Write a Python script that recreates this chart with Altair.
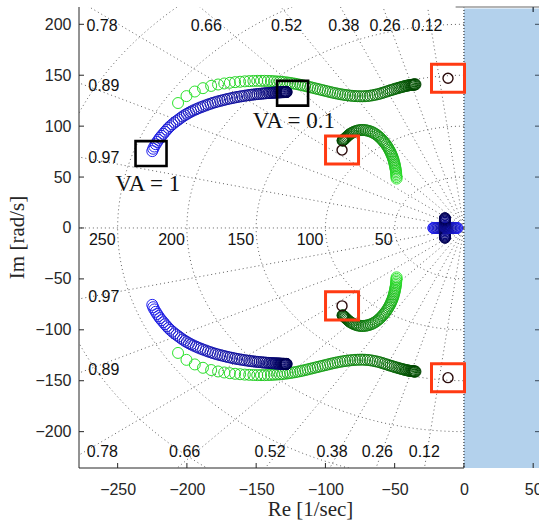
import altair as alt
import numpy as np
import pandas as pd

# ---------------- axes ----------------
XMIN, XMAX = -277.9, 54.2
YMIN, YMAX = -235.7, 217.0
W, H = 460, 461
x_ticks = [-250, -200, -150, -100, -50, 0, 50]
y_ticks = [-200, -150, -100, -50, 0, 50, 100, 150, 200]

# ---------------- s-grid ----------------
zetas = [0.12, 0.26, 0.38, 0.52, 0.66, 0.78, 0.89, 0.97]
wn_circles = [50, 100, 150, 200, 250, 300]
wn_labels = [50, 100, 150, 200, 250]

zeta_top_text = ["0.78", "0.66", "0.52", "0.38", "0.26", "0.12"]
zeta_top_x = [-261.3, -186.0, -128.0, -86.7, -57.0, -26.7]
zeta_top_y = 198.0
zeta_bot_x = [-261.0, -201.6, -140.0, -95.2, -62.5, -28.6]
zeta_bot_y = -219.6
zeta_left_text = ["0.89", "0.97"]
zeta_left_x = -260.0
zeta_left_y_top = [139.0, 68.5]
zeta_left_y_bot = [-139.5, -67.6]

# ---------------- root-locus branches (upper half, light -> dark) ----------------
blue_pts = [(-225, 75.5), (-224.3, 77.8), (-223.5, 80), (-222.5, 82.3), (-221.5, 84.5),
            (-220.5, 86.5), (-219.5, 88.5), (-218.3, 90.5), (-217, 92.5), (-215.8, 94.5),
            (-214.5, 96.5), (-213.3, 98.3), (-212, 100), (-210.5, 101.8), (-209, 103.5),
            (-207.5, 105), (-206, 106.5), (-204.5, 108), (-203, 109.5), (-201.5, 110.8),
            (-200, 112), (-198.5, 113.2), (-197, 114.3), (-195.3, 115.4), (-193.5, 116.5),
            (-191.8, 117.5), (-190, 118.5), (-188.3, 119.4), (-186.5, 120.3), (-184.8, 121.2),
            (-183, 122), (-181.3, 122.8), (-179.5, 123.5), (-177.8, 124.2), (-176, 124.8),
            (-174.3, 125.4), (-172.5, 126), (-170.8, 126.6), (-169, 127.1), (-167.3, 127.6),
            (-165.5, 128.1), (-163.8, 128.6), (-162, 129), (-160.3, 129.4), (-158.5, 129.8),
            (-156.8, 130.2), (-155, 130.5), (-153.5, 130.8), (-152, 131), (-150.5, 131.3),
            (-149, 131.5), (-147.5, 131.7), (-146, 131.9), (-144.8, 132.1), (-143.5, 132.2),
            (-142.3, 132.4), (-141, 132.5), (-140, 132.6), (-139, 132.7), (-138, 132.8),
            (-137, 132.9), (-136.2, 133), (-135.5, 133), (-134.7, 133.1), (-134, 133.1),
            (-133.4, 133.2), (-132.8, 133.2), (-132.2, 133.3), (-131.6, 133.3), (-131.1, 133.4),
            (-130.6, 133.4), (-130.2, 133.4), (-129.8, 133.4), (-129.4, 133.5), (-129, 133.5),
            (-128.7, 133.5), (-128.4, 133.5), (-128.2, 133.5), (-128, 133.5)]

green_pts = [(-206.4, 122.7), (-200.3, 129.5), (-194.3, 134), (-188.4, 137.3), (-182.5, 139.5),
             (-177.5, 140.9), (-173, 141.9), (-169, 142.6), (-165.2, 143.2), (-161.6, 143.6),
             (-158.2, 144), (-155, 144.2), (-152, 144.4), (-149.2, 144.5), (-146.5, 144.5),
             (-144, 144.5), (-141.6, 144.4), (-139.3, 144.3), (-137.1, 144.1), (-135, 143.9),
             (-133, 143.7), (-131, 143.4), (-129.1, 143.1), (-127.2, 142.8), (-125.4, 142.4),
             (-123.6, 142), (-121.8, 141.6), (-120, 141.1), (-118.2, 140.6), (-116.4, 140.1),
             (-114.6, 139.5), (-112.8, 138.9), (-111, 138.3), (-109.2, 137.7), (-107.4, 137.1),
             (-105.6, 136.5), (-103.8, 135.9), (-102, 135.3), (-100.2, 134.7), (-98.4, 134.1),
             (-96.6, 133.5), (-94.8, 132.9), (-93, 132.4), (-91.2, 131.9), (-89.4, 131.4),
             (-87.6, 131), (-85.8, 130.6), (-84, 130.3), (-82.2, 130), (-80.4, 129.7),
             (-78.6, 129.5), (-76.8, 129.4), (-75, 129.3), (-73.2, 129.3), (-71.4, 129.4),
             (-69.6, 129.6), (-67.8, 129.9), (-66, 130.3), (-64.2, 130.8), (-62.4, 131.3),
             (-60.7, 131.9), (-59, 132.6), (-57.4, 133.3), (-55.8, 134), (-54.3, 134.7),
             (-52.8, 135.3), (-51.4, 135.9), (-50, 136.5), (-48.7, 137), (-47.4, 137.5),
             (-46.2, 138), (-45, 138.4), (-43.9, 138.8), (-42.9, 139.2), (-41.9, 139.5),
             (-41, 139.8), (-40.2, 140), (-39.4, 140.2), (-38.7, 140.4), (-38, 140.5),
             (-37.4, 140.6), (-36.8, 140.7), (-36.3, 140.8), (-35.8, 140.9), (-35.4, 140.9),
             (-35, 141)]

hook_pts = [(-48.6, 48.5), (-48.7, 50), (-48.8, 51.5), (-48.9, 53), (-49, 54.5),
            (-49.1, 56), (-49.3, 57.5), (-49.5, 59), (-49.7, 60.5), (-49.9, 62),
            (-50.2, 63.5), (-50.5, 65), (-50.8, 66.5), (-51.1, 68), (-51.5, 69.5),
            (-51.9, 71), (-52.4, 72.5), (-52.9, 74), (-53.4, 75.5), (-54, 77),
            (-54.6, 78.5), (-55.3, 80), (-56, 81.5), (-56.8, 83), (-57.6, 84.3),
            (-58.5, 85.6), (-59.4, 87), (-60.4, 88.4), (-61.4, 89.7), (-62.5, 90.9),
            (-63.6, 92), (-64.8, 93), (-66, 93.9), (-67.2, 94.6), (-68.5, 95.2),
            (-69.8, 95.7), (-71.1, 96), (-72.4, 96.2), (-73.7, 96.2), (-75, 96.1),
            (-76.2, 95.8), (-77.4, 95.4), (-78.5, 94.9), (-79.6, 94.3), (-80.6, 93.6),
            (-81.6, 92.8), (-82.5, 92), (-83.3, 91.1), (-84, 90.2), (-84.7, 89.4),
            (-85.3, 88.6), (-85.8, 87.9), (-86.3, 87.3), (-86.7, 86.8), (-87, 86.4),
            (-87.3, 86.1), (-87.5, 85.9), (-87.6, 85.8)]

orig_a_pts = [(-22, 0), (-21, 0), (-20, 0), (-19, 0), (-18, 0), (-17, 0), (-16, 0), (-15, 0),
              (-14.3, 0), (-13.8, 0.8), (-13.7, 2), (-13.7, 3.5), (-13.7, 5), (-13.7, 6.3),
              (-13.7, 7.5), (-13.7, 8.6), (-13.7, 9.5)]
orig_b_pts = [(-5, 0), (-6, 0), (-7, 0), (-8, 0), (-9, 0), (-10, 0), (-11, 0), (-12, 0),
              (-12.9, 0), (-13.5, -0.8), (-13.7, -2), (-13.7, -3.5), (-13.7, -5), (-13.7, -6.3),
              (-13.7, -7.5), (-13.7, -8.6), (-13.7, -9.5)]

# open-loop markers (upper half) and highlight boxes
pz_x = [-11.5, -88.0]
pz_y = [147.0, 76.5]
va_box_x = [-225.9, -123.7]
va_box_y = [73.1, 132.3]
va_text = ["VA = 1", "VA = 0.1"]
va_text_x = [-228.3, -122.8]
va_text_y = [43.0, 105.3]

SANS = "Liberation Sans"
SERIF = "Liberation Serif"
TXT = "#262626"


def grad(c0, c1, n):
    out = []
    for i in range(n):
        t = i / max(n - 1, 1)
        c = [round(a + (b - a) * t) for a, b in zip(c0, c1)]
        out.append("#%02x%02x%02x" % tuple(c))
    return out


BLUE = ((34, 34, 240), (0, 0, 80))
GREEN = ((45, 230, 45), (0, 70, 0))

rows = []
k = 0
for pts, pal in [(green_pts, GREEN), (hook_pts, GREEN), (blue_pts, BLUE),
                 (orig_a_pts, BLUE), (orig_b_pts, BLUE)]:
    cols = grad(pal[0], pal[1], len(pts))
    for sgn in (1, -1):
        for (xx, yy), cc in zip(pts, cols):
            rows.append({"x": xx, "y": sgn * yy, "c": cc, "k": k})
            k += 1
loci = pd.DataFrame(rows)

# grid geometry
g = []
for i, z in enumerate(zetas):
    for sgn in (1, -1):
        gid = f"z{i}_{sgn}"
        g.append({"g": gid, "o": 0, "x": 0.0, "y": 0.0})
        g.append({"g": gid, "o": 1, "x": -600 * z, "y": sgn * 600 * np.sqrt(1 - z * z)})
for w in wn_circles:
    for j, a in enumerate(np.linspace(np.pi / 2, 3 * np.pi / 2, 181)):
        g.append({"g": f"w{w}", "o": j, "x": w * np.cos(a), "y": w * np.sin(a)})
g.append({"g": "re", "o": 0, "x": -600.0, "y": 0.0})
g.append({"g": "re", "o": 1, "x": 0.0, "y": 0.0})
grid = pd.DataFrame(g)

xs = alt.Scale(domain=[XMIN, XMAX], nice=False, zero=False)
ys = alt.Scale(domain=[YMIN, YMAX], nice=False, zero=False)
x_axis = alt.Axis(values=x_ticks, title="Re [1/sec]", grid=False, domain=False, ticks=False,
                  labelFont=SANS, labelFontSize=16, labelColor=TXT, labelPadding=13,
                  labelFlush=False, labelOverlap=False, titleFont=SERIF, titleFontSize=21,
                  titleFontWeight="normal", titleColor=TXT, titleX=231, titleY=41,
                  titleBaseline="middle", titleAlign="center")
y_axis = alt.Axis(values=y_ticks, title="Im [rad/s]", grid=False, domain=False, ticks=False,
                  labelFont=SANS, labelFontSize=16, labelColor=TXT, labelPadding=8,
                  labelFlush=False, labelOverlap=False, titleFont=SERIF, titleFontSize=21,
                  titleFontWeight="normal", titleColor=TXT, titleX=-62, titleY=230,
                  titleAngle=270, titleBaseline="middle", titleAlign="center")


def X(f="x"):
    return alt.X(f"{f}:Q", scale=xs, axis=x_axis)


def Y(f="y"):
    return alt.Y(f"{f}:Q", scale=ys, axis=y_axis)


shade = alt.Chart(pd.DataFrame({"x0": [0.0], "x1": [XMAX]})).mark_rect(
    color="#b3d1ec").encode(x=X("x0"), x2="x1", y=alt.value(1.5), y2=alt.value(H))

grid_lines = alt.Chart(grid).mark_line(
    color="#606060", strokeDash=[1, 3], strokeWidth=1, clip=True).encode(
    x=X(), y=Y(), detail="g:N", order="o:Q")

imag_axis = alt.Chart(pd.DataFrame({"x": [0.0]})).mark_rule(
    color="#111111", strokeDash=[1, 2], strokeWidth=1).encode(
    x=X(), y=alt.value(0), y2=alt.value(H))

zl = []
for t, xx in zip(zeta_top_text, zeta_top_x):
    zl.append({"t": t, "x": xx, "y": zeta_top_y})
for t, xx in zip(zeta_top_text, zeta_bot_x):
    zl.append({"t": t, "x": xx, "y": zeta_bot_y})
for t, yt, yb in zip(zeta_left_text, zeta_left_y_top, zeta_left_y_bot):
    zl.append({"t": t, "x": zeta_left_x, "y": yt})
    zl.append({"t": t, "x": zeta_left_x, "y": yb})
zeta_text = alt.Chart(pd.DataFrame(zl)).mark_text(
    font=SANS, fontSize=16, color="#111111", align="center", baseline="middle").encode(
    x=X(), y=Y(), text="t:N")

wn_text = alt.Chart(pd.DataFrame({"x": [-float(v) for v in wn_labels],
                                  "y": [0.0] * len(wn_labels),
                                  "t": [str(v) for v in wn_labels]})).mark_text(
    font=SANS, fontSize=16, color="#111111", align="right", baseline="middle",
    dx=-2, dy=12).encode(x=X(), y=Y(), text="t:N")

locus = alt.Chart(loci).mark_point(shape="circle", filled=False, size=121,
                                   strokeWidth=1, opacity=1).encode(
    x=X(), y=Y(), color=alt.Color("c:N", scale=None), order="k:Q")

pz = pd.DataFrame({"x": pz_x + pz_x, "y": pz_y + [-v for v in pz_y]})
pz_marks = alt.Chart(pz).mark_point(shape="circle", filled=False, size=100,
                                    strokeWidth=1.4, color="#2a0a0a", opacity=1).encode(
    x=X(), y=Y())
red_boxes = alt.Chart(pz).mark_point(shape="M-1,-0.85H1V0.85H-1Z", filled=False, size=1089,
                                     strokeWidth=3, color="#ff3a12", opacity=1).encode(
    x=X(), y=Y())
black_boxes = alt.Chart(pd.DataFrame({"x": va_box_x, "y": va_box_y})).mark_point(
    shape="M-1,-0.8H1V0.8H-1Z", filled=False, size=961, strokeWidth=2.6,
    color="#000000", opacity=1).encode(x=X(), y=Y())
va_labels = alt.Chart(pd.DataFrame({"x": va_text_x, "y": va_text_y, "t": va_text})).mark_text(
    font=SERIF, fontSize=23, color="#111111", align="center", baseline="middle").encode(
    x=X(), y=Y(), text="t:N")

left_line = alt.Chart(pd.DataFrame({"a": [0]})).mark_rule(color=TXT, strokeWidth=1).encode(
    x=alt.value(0), y=alt.value(0), y2=alt.value(H))
bottom_line = alt.Chart(pd.DataFrame({"x0": [XMIN], "x1": [0.0]})).mark_rule(
    color=TXT, strokeWidth=1).encode(x=X("x0"), x2="x1", y=alt.value(H))
top_line = alt.Chart(pd.DataFrame({"x0": [-6.0], "x1": [XMAX]})).mark_rule(
    color="#9a9a9a", strokeWidth=1.5).encode(x=X("x0"), x2="x1", y=alt.value(0))
yt_df = pd.DataFrame({"y": [float(v) for v in y_ticks]})
ytick_l = alt.Chart(yt_df).mark_rule(color=TXT, strokeWidth=1).encode(
    y=Y(), x=alt.value(0), x2=alt.value(5))
ytick_r = alt.Chart(yt_df).mark_rule(color="#3a4a5a", strokeWidth=1).encode(
    y=Y(), x=alt.value(W - 4), x2=alt.value(W))
xt_df = pd.DataFrame({"x": [float(v) for v in x_ticks]})
xtick_b = alt.Chart(xt_df).mark_rule(color=TXT, strokeWidth=1).encode(
    x=X(), y=alt.value(H), y2=alt.value(H - 5))
xtick_t = alt.Chart(pd.DataFrame({"x": [50.0]})).mark_rule(color="#3a4a5a", strokeWidth=1.5).encode(
    x=X(), y=alt.value(0), y2=alt.value(5))

chart = alt.layer(
    shade, grid_lines, imag_axis, zeta_text, wn_text, locus, pz_marks, red_boxes,
    black_boxes, va_labels, left_line, bottom_line, top_line, ytick_l, ytick_r,
    xtick_b, xtick_t
).properties(
    width=W, height=H,
    autosize=alt.AutoSizeParams(type="none"),
    padding={"left": 79, "top": 7, "right": 0, "bottom": 55},
    background="white",
).configure_view(stroke=None)

chart.save("out.html", embed_options={"renderer": "svg", "actions": False})
